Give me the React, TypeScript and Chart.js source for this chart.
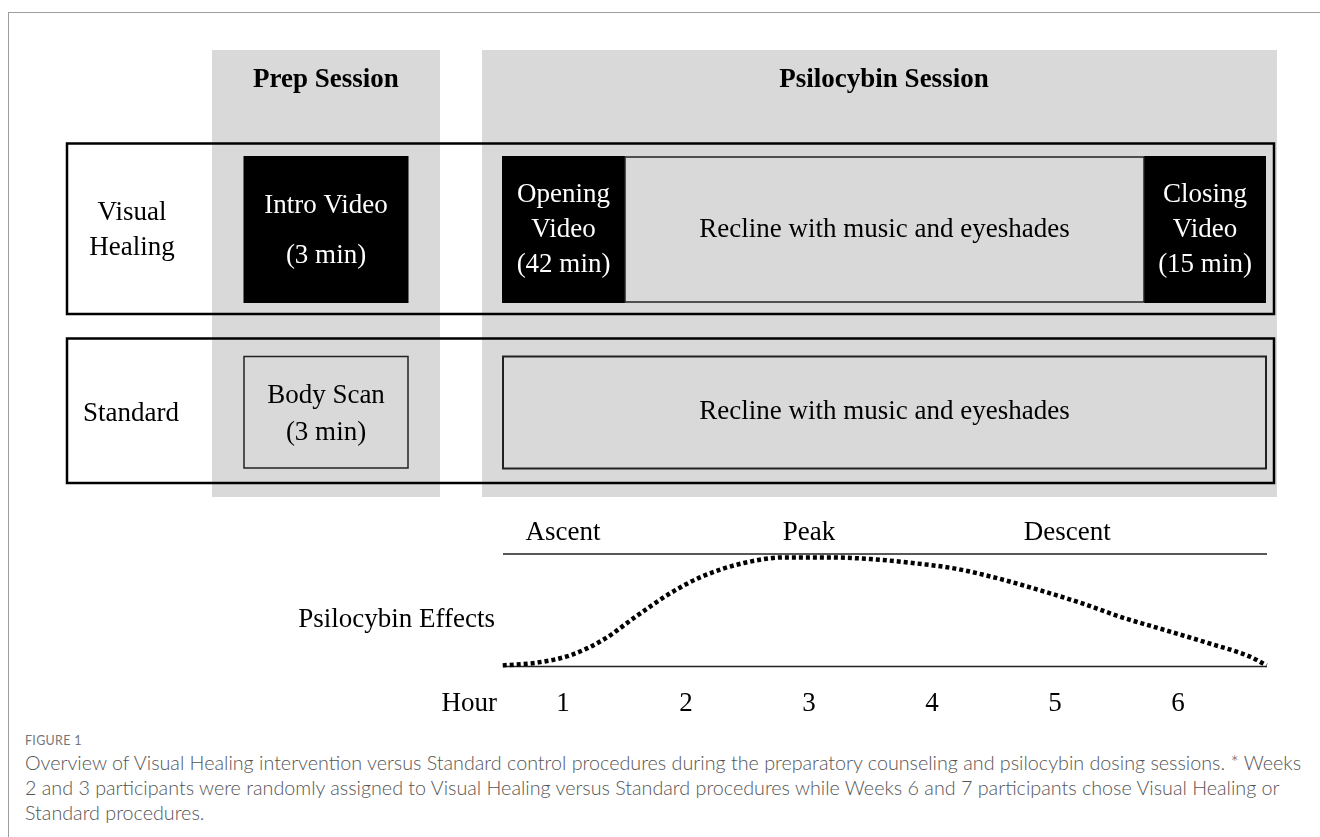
import React, { useEffect, useLayoutEffect, useRef, useState } from "react";
import { Chart, registerables } from "chart.js";

Chart.register(...registerables);

// ---------- data ----------
const hourTicks = [1, 2, 3, 4, 5, 6];
const hourLabels = ["1", "2", "3", "4", "5", "6"];
const phaseLabels = ["Ascent", "Peak", "Descent"];
const phaseHours = [1, 3, 5.1];
const effectHours = [0.51, 0.79, 1.06, 1.33, 1.6, 1.87, 2.13, 2.47, 2.81, 3.15, 3.5, 3.84, 4.19, 4.53, 4.87, 5.21, 5.55, 5.89, 6.24, 6.58, 6.72];
const effectValues = [0.01, 0.035, 0.1, 0.24, 0.45, 0.65, 0.8, 0.92, 0.97, 0.97, 0.955, 0.92, 0.87, 0.785, 0.68, 0.565, 0.435, 0.325, 0.21, 0.09, 0.01];
const sessionLabels = ["Prep Session", "Psilocybin Session"];
const conditionLabels = [["Visual", "Healing"], ["Standard"]];
const prepLabels = [["Intro Video", "(3 min)"], ["Body Scan", "(3 min)"]];
const openingLabel = ["Opening", "Video", "(42 min)"];
const closingLabel = ["Closing", "Video", "(15 min)"];
const reclineLabel = "Recline with music and eyeshades";
const effectsTitle = "Psilocybin Effects";
const hourTitle = "Hour";
const figureLabel = "FIGURE 1";
const captionLines = [
  "Overview of Visual Healing intervention versus Standard control procedures during the preparatory counseling and psilocybin dosing sessions. * Weeks",
  "2 and 3 participants were randomly assigned to Visual Healing versus Standard procedures while Weeks 6 and 7 participants chose Visual Healing or",
  "Standard procedures.",
];

// ---------- layout / style ----------
const SERIF = '"Liberation Serif", "Times New Roman", serif';
const GRAY = "#d9d9d9";
const L = {
  prepCol: { x: 212, y: 50, w: 228, h: 447, cx: 326 },
  psiCol: { x: 482, y: 50, w: 795, h: 447, cx: 884 },
  headerBase: 87,
  row1: { x: 67, y: 143.5, w: 1207, h: 170.5 },
  row2: { x: 67, y: 338.5, w: 1207, h: 144.5 },
  labelCx: 132,
  area: { left: 503, right: 1267, top: 554, bottom: 666.5 },
  canvasW: 1320,
  canvasH: 725,
};

function textLines(ctx: CanvasRenderingContext2D, lines: string[], cx: number, bases: number[]) {
  lines.forEach((t, i) => ctx.fillText(t, cx, bases[i]));
}

const diagramPlugin = {
  id: "diagram",
  beforeDraw(chart: any) {
    const ctx: CanvasRenderingContext2D = chart.ctx;
    ctx.save();
    // session columns
    ctx.fillStyle = GRAY;
    ctx.fillRect(L.prepCol.x, L.prepCol.y, L.prepCol.w, L.prepCol.h);
    ctx.fillRect(L.psiCol.x, L.psiCol.y, L.psiCol.w, L.psiCol.h);
    ctx.fillStyle = "#000";
    ctx.textAlign = "center";
    ctx.textBaseline = "alphabetic";
    ctx.font = `bold 27px ${SERIF}`;
    ctx.fillText(sessionLabels[0], L.prepCol.cx, L.headerBase);
    ctx.fillText(sessionLabels[1], L.psiCol.cx, L.headerBase);

    ctx.font = `27px ${SERIF}`;
    // Row 1 inner boxes
    ctx.fillStyle = "#000";
    ctx.fillRect(243.5, 156, 165, 147);
    ctx.fillRect(502, 156, 123, 147);
    ctx.fillRect(1144, 156, 122, 147);
    ctx.fillStyle = GRAY;
    ctx.fillRect(625, 157, 519, 145);
    ctx.strokeStyle = "#222";
    ctx.lineWidth = 1.5;
    ctx.strokeRect(625, 157, 519, 145);

    ctx.fillStyle = "#fff";
    textLines(ctx, prepLabels[0], 326, [213, 263]);
    textLines(ctx, openingLabel, 563.5, [202, 237, 272]);
    textLines(ctx, closingLabel, 1205, [202, 237, 272]);
    ctx.fillStyle = "#000";
    ctx.fillText(reclineLabel, 884.5, 237);

    // Row 2 inner boxes
    ctx.lineWidth = 1.5;
    ctx.strokeStyle = "#222";
    ctx.strokeRect(244, 356.5, 164, 111.5);
    ctx.lineWidth = 2;
    ctx.strokeRect(503, 356.5, 763, 112);
    textLines(ctx, prepLabels[1], 326, [403, 440]);
    ctx.fillText(reclineLabel, 884.5, 419);

    // condition labels
    textLines(ctx, conditionLabels[0], L.labelCx, [220, 255]);
    textLines(ctx, conditionLabels[1], L.labelCx - 1, [421]);

    // row frames
    ctx.strokeStyle = "#000";
    ctx.lineWidth = 2.5;
    ctx.strokeRect(L.row1.x, L.row1.y, L.row1.w, L.row1.h);
    ctx.strokeRect(L.row2.x, L.row2.y, L.row2.w, L.row2.h);
    ctx.restore();
  },
  beforeDatasetsDraw(chart: any) {
    const ctx: CanvasRenderingContext2D = chart.ctx;
    const a = chart.chartArea;
    const xs = chart.scales.x;
    ctx.save();
    ctx.strokeStyle = "#222";
    ctx.lineWidth = 1.6;
    ctx.beginPath();
    ctx.moveTo(a.left, a.top);
    ctx.lineTo(a.right, a.top);
    ctx.moveTo(a.left, a.bottom);
    ctx.lineTo(a.right, a.bottom);
    ctx.stroke();

    ctx.fillStyle = "#000";
    ctx.font = `27px ${SERIF}`;
    ctx.textBaseline = "alphabetic";
    ctx.textAlign = "center";
    phaseLabels.forEach((t, i) => ctx.fillText(t, xs.getPixelForValue(phaseHours[i]), a.top - 14));
    hourTicks.forEach((h, i) => ctx.fillText(hourLabels[i], xs.getPixelForValue(h), a.bottom + 44.5));
    ctx.textAlign = "right";
    ctx.fillText(hourTitle, a.left - 6, a.bottom + 44.5);
    ctx.fillText(effectsTitle, a.left - 8, 627);
    ctx.restore();
  },
};

export default function App() {
  const ref = useRef<HTMLCanvasElement | null>(null);
  const [capSize, setCapSize] = useState(17);

  useLayoutEffect(() => {
    const c = document.createElement("canvas").getContext("2d");
    if (c) {
      c.font = '300 100px "Lato"';
      const w = c.measureText(captionLines[0]).width;
      if (w > 0) setCapSize((100 * 1280) / w);
    }
  }, []);

  useEffect(() => {
    if (!ref.current) return;
    // x scale in hours: 1 h -> 563 px, 6 h -> 1178 px
    const pxPerHour = 123;
    const hour0 = 440;
    const xMin = (L.area.left - hour0) / pxPerHour;
    const xMax = (L.area.right - hour0) / pxPerHour;
    const chart = new Chart(ref.current, {
      type: "line",
      data: {
        datasets: [
          {
            data: effectHours.map((h, i) => ({ x: h, y: effectValues[i] })),
            borderColor: "#000",
            borderWidth: 4.5,
            borderDash: [4, 3],
            borderCapStyle: "butt",
            pointRadius: 0,
            cubicInterpolationMode: "monotone",
            fill: false,
            clip: false as any,
          },
        ],
      },
      options: {
        responsive: false,
        animation: false,
        events: [],
        layout: {
          padding: {
            left: L.area.left,
            right: L.canvasW - L.area.right,
            top: L.area.top,
            bottom: L.canvasH - L.area.bottom,
          },
        },
        scales: {
          x: { type: "linear", min: xMin, max: xMax, display: false },
          y: { type: "linear", min: 0, max: 1, display: false },
        },
        plugins: { legend: { display: false }, tooltip: { enabled: false } },
      },
      plugins: [diagramPlugin],
    });
    return () => chart.destroy();
  }, []);

  const capStyle: React.CSSProperties = {
    position: "absolute",
    left: 25,
    whiteSpace: "nowrap",
    fontFamily: '"Lato", "Open Sans", sans-serif',
    fontWeight: 300,
    fontSize: capSize,
    lineHeight: "25px",
    color: "#555",
  };

  return (
    <div style={{ position: "absolute", left: 0, top: 0, width: 1320, height: 837, overflow: "hidden", background: "#fff" }}>
      <div
        style={{
          position: "absolute",
          left: 8,
          top: 12,
          width: 1400,
          height: 900,
          borderLeft: "1px solid #9e9e9e",
          borderTop: "1px solid #9e9e9e",
        }}
      />
      <canvas ref={ref} width={L.canvasW} height={L.canvasH} style={{ position: "absolute", left: 0, top: 0 }} />
      <div
        style={{
          position: "absolute",
          left: 25,
          top: 733,
          fontFamily: '"Lato", "Open Sans", sans-serif',
          fontSize: 12.5,
          lineHeight: "16px",
          color: "#777",
          letterSpacing: 0.3,
        }}
      >
        {figureLabel}
      </div>
      {captionLines.map((t, i) => (
        <div key={i} style={{ ...capStyle, top: 749.5 + i * 25 }}>
          {t}
        </div>
      ))}
    </div>
  );
}
